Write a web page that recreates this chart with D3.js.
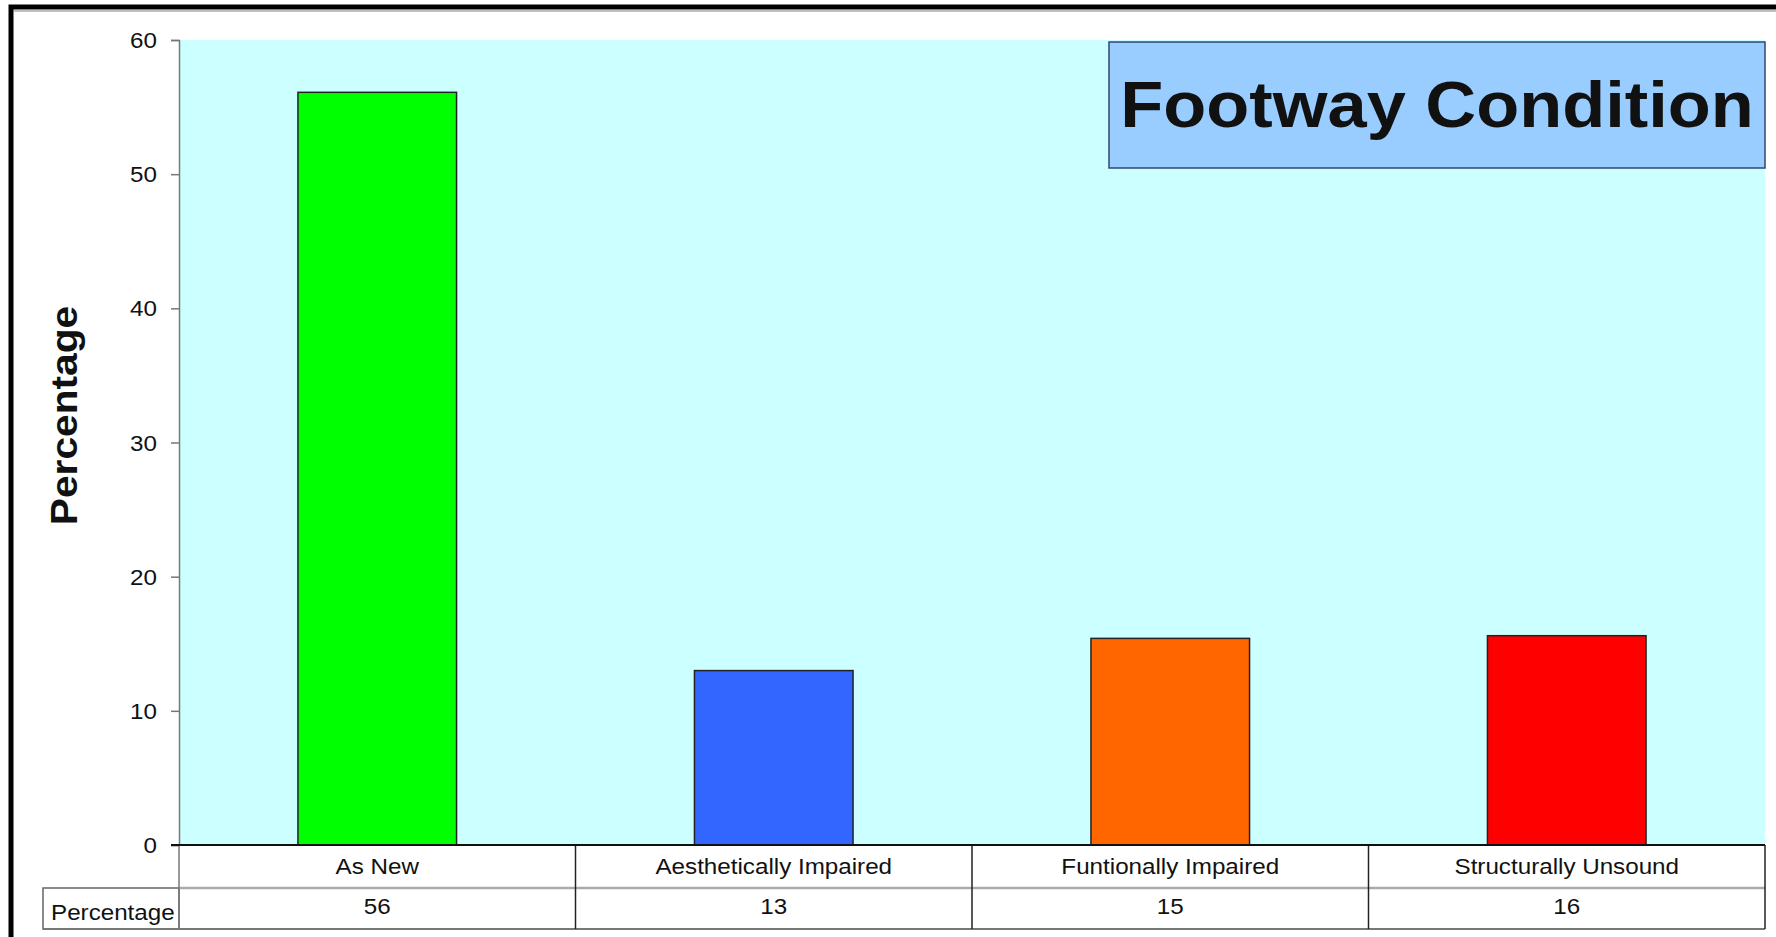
<!DOCTYPE html>
<html>
<head>
<meta charset="utf-8">
<script src="https://cdn.jsdelivr.net/npm/d3@7"></script>
<style>
  html, body { margin: 0; padding: 0; background: #fff; overflow: hidden; }
  text { font-family: "Liberation Sans", Arial, sans-serif; fill: #111; }
</style>
</head>
<body>
<svg id="chart" width="1776" height="937"></svg>
<script>
// data
var categories = ["As New", "Aesthetically Impaired", "Funtionally Impaired", "Structurally Unsound"];
var percentages = [56.1, 13.0, 15.4, 15.6];
var barColors = ["#00ff00", "#3366ff", "#ff6600", "#ff0000"];
var yTicks = [0, 10, 20, 30, 40, 50, 60];
var chartTitle = "Footway Condition";
var seriesName = "Percentage";

var svg = d3.select("#chart"),
    width = +svg.attr("width"),
    height = +svg.attr("height");

// plot box (note: "top" is taken by window.top, so prefixed names)
var plotL = 179, plotR = 1765, plotT = 40, plotB = 845,
    row1 = 888, row2 = 929, headL = 43;

var x = d3.scaleBand()
    .domain(categories)
    .range([plotL, plotR])
    .paddingInner(0.6)
    .paddingOuter(0.3);

var y = d3.scaleLinear()
    .domain([0, 60])
    .range([plotB, plotT]);

// text a bit wider than Arial, like the original
function label(g, tx, ty, str, size, anchor, weight, rot) {
  return g.append("text")
    .attr("transform", "translate(" + tx + "," + ty + ")" + (rot ? " rotate(" + rot + ")" : "") + " scale(1.1,1)")
    .attr("text-anchor", anchor)
    .style("font-size", size + "px")
    .style("font-weight", weight || "normal")
    .text(str);
}

// outer frame
svg.append("rect")
    .attr("x", 11).attr("y", 7)
    .attr("width", width + 20).attr("height", height + 20)
    .attr("fill", "none").attr("stroke", "#000").attr("stroke-width", 5);
svg.append("line")
    .attr("x1", 14).attr("x2", width).attr("y1", 11).attr("y2", 11)
    .attr("stroke", "#aaa").attr("stroke-width", 1.5);

// plot area
svg.append("rect")
    .attr("x", plotL).attr("y", plotT)
    .attr("width", plotR - plotL).attr("height", plotB - plotT)
    .attr("fill", "#ccffff");

// y axis
var yAxis = svg.append("g")
    .attr("transform", "translate(" + plotL + ",0)")
    .call(d3.axisLeft(y).tickValues(yTicks).tickSize(8).tickPadding(12));
yAxis.select(".domain").attr("stroke", "#777").attr("stroke-width", 1.5);
yAxis.selectAll(".tick line").attr("stroke", "#777").attr("stroke-width", 1.5);
yAxis.selectAll(".tick text").remove();
yTicks.forEach(function(t) {
  label(svg, plotL - 22, y(t) + 8, t, 22, "end");
});

label(svg, 77, (plotT + plotB) / 2 - 27, seriesName, 37, "middle", "bold", -90);

// bars
svg.selectAll(".bar")
    .data(percentages)
    .enter().append("rect")
    .attr("class", "bar")
    .attr("x", function(d, i) { return x(categories[i]); })
    .attr("y", function(d) { return y(d); })
    .attr("width", x.bandwidth())
    .attr("height", function(d) { return y(0) - y(d); })
    .attr("fill", function(d, i) { return barColors[i]; })
    .attr("stroke", "#222")
    .attr("stroke-width", 1.5);

// data table under the axis
var step = x.step();
var bounds = categories.map(function(c) { return x(c) - step * x.paddingInner() / 2; });
bounds.push(plotR);

svg.append("rect")
    .attr("x", plotL).attr("y", plotB)
    .attr("width", plotR - plotL).attr("height", row2 - plotB)
    .attr("fill", "#fff");
svg.append("rect")
    .attr("x", headL).attr("y", row1)
    .attr("width", plotL - headL).attr("height", row2 - row1)
    .attr("fill", "#fff").attr("stroke", "#666").attr("stroke-width", 1.5);

svg.append("line")
    .attr("x1", plotL).attr("x2", plotR).attr("y1", row1).attr("y2", row1)
    .attr("stroke", "#aaa").attr("stroke-width", 2.5);
svg.append("line")
    .attr("x1", headL).attr("x2", plotR).attr("y1", row2).attr("y2", row2)
    .attr("stroke", "#777").attr("stroke-width", 2);

svg.selectAll(".divider")
    .data(bounds)
    .enter().append("line")
    .attr("class", "divider")
    .attr("x1", function(d) { return d; }).attr("x2", function(d) { return d; })
    .attr("y1", plotB).attr("y2", row2)
    .attr("stroke", function(d, i) { return i == 0 ? "#777" : "#222"; })
    .attr("stroke-width", 1.5);

svg.append("line")
    .attr("x1", plotL - 8).attr("x2", plotR).attr("y1", y(0)).attr("y2", y(0))
    .attr("stroke", "#111").attr("stroke-width", 2);

categories.forEach(function(c, i) {
  var cx = x(c) + x.bandwidth() / 2;
  label(svg, cx, 874, c, 22, "middle");
  label(svg, cx, 914, d3.format(".0f")(percentages[i]), 22, "middle");
});
label(svg, 51, 920, seriesName, 22, "start");

// title box
svg.append("rect")
    .attr("x", 1109).attr("y", 42)
    .attr("width", plotR - 1109).attr("height", 126)
    .attr("fill", "#99ccff").attr("stroke", "#334477").attr("stroke-width", 1.5);
label(svg, 1437, 127, chartTitle, 64, "middle", "bold");
</script>
</body>
</html>
